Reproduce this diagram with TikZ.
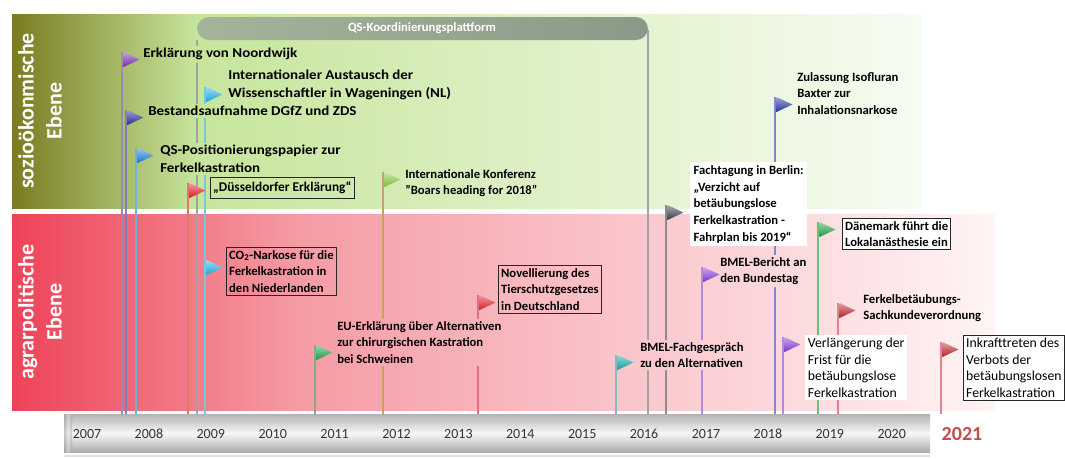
\documentclass[tikz,border=0pt]{standalone}
\usepackage{fontspec}
\setmainfont{Carlito}
\usetikzlibrary{calc}
\pgfdeclarelayer{bg}
\pgfdeclarelayer{poles}
\pgfdeclarelayer{patch}
\pgfsetlayers{bg,poles,patch,main}
\definecolor{grnA}{HTML}{7A7C20}
\definecolor{grnB}{HTML}{C6E59C}
\definecolor{grnC}{HTML}{F7FCF2}
\definecolor{redA}{HTML}{EE4358}
\definecolor{redB}{HTML}{F59CA5}
\definecolor{redC}{HTML}{FFF4F5}
\definecolor{qsA}{HTML}{A4B39A}
\definecolor{qsB}{HTML}{8A9A88}
\definecolor{fPurple}{HTML}{7B2FB5}
\definecolor{fNavy}{HTML}{2B2B9E}
\definecolor{fBlue}{HTML}{1E7FD8}
\definecolor{fRed}{HTML}{E8202C}
\definecolor{fCyan}{HTML}{1FB2EA}
\definecolor{fLime}{HTML}{8CCB3C}
\definecolor{fGreen}{HTML}{23A548}
\definecolor{fTeal}{HTML}{17A9AC}
\definecolor{fDark}{HTML}{3A4552}
\definecolor{fRoyal}{HTML}{2A37A8}
\definecolor{fViolet}{HTML}{8A3CD6}
\definecolor{fDRed}{HTML}{C32630}
\definecolor{pNoord}{HTML}{9A8CB4}
\definecolor{pBest}{HTML}{7E80B8}
\definecolor{pQSpos}{HTML}{6AB4DC}
\definecolor{pDuss}{HTML}{E07A62}
\definecolor{pCyan}{HTML}{74C9DA}
\definecolor{pQS}{HTML}{A3A3A3}
\definecolor{pBoar}{HTML}{C4A464}
\definecolor{pEU}{HTML}{8FA486}
\definecolor{pNov}{HTML}{E0707E}
\definecolor{pBMF}{HTML}{82BCBC}
\definecolor{pFach}{HTML}{8C8C8C}
\definecolor{pZul}{HTML}{8088C8}
\definecolor{pBer}{HTML}{B38CD6}
\definecolor{pDan}{HTML}{6CC26C}
\definecolor{pFb}{HTML}{E08494}
\definecolor{cYear}{HTML}{C0504D}
\newcommand{\drawbands}{%
  \shade[left color=grnA, right color=grnB] (12,14) rectangle (196,208);
  \shade[left color=grnB, right color=grnC] (195.5,14) rectangle (922,208);
  \shade[left color=redA, right color=redB] (12,214) rectangle (300,410);
  \shade[left color=redB, right color=redC] (299.5,214) rectangle (995,410);
}
\newcommand{\pennant}[2]{\shade[pennant=#1] ($(#2)+(1.5,0)$) -- ++(16,7.5) -- ++(-16,7.5) -- cycle;}
\begin{document}
\begin{tikzpicture}[x=0.75pt,y=-0.75pt,
  lbl/.style={font=\fontsize{9.5}{12.5}\selectfont\bfseries, align=left, inner sep=0pt, anchor=north west},
  lblbig/.style={lbl, font=\fontsize{10.2}{13.5}\selectfont\bfseries, xscale=1.1, transform shape},
  lblr/.style={font=\fontsize{10.3}{12.4}\selectfont, align=left, inner sep=2pt, anchor=north west, fill=white},
  framed/.style={lbl, draw=black!85, line width=0.7pt, inner sep=2pt},
  pole/.style={draw=#1, line width=1.2pt},
  pennant/.style={top color=#1!45!white, bottom color=#1!92!black},
  yr/.style={font=\fontsize{10.5}{12}\selectfont, text=black!80},
  side/.style={rotate=90, font=\fontsize{16.5}{21}\selectfont\bfseries, text=white, align=center},
]
\useasboundingbox (0,0) rectangle (1065,458);
\begin{pgfonlayer}{bg}
  \fill[white] (0,0) rectangle (1065,458);
  \drawbands
\end{pgfonlayer}

% side labels
\node[side] (lsoz) at (40,111) {sozioökonmische\\Ebene};
\node[side] (lagr) at (40,312) {agrarpolitische\\Ebene};

% QS platform
\shade[rounded corners=9, left color=qsA, right color=qsB] (197,17) rectangle (648,40);
\node[font=\fontsize{9.5}{11}\selectfont\bfseries, text=white] (qs) at (422,28) {QS-Koordinierungsplattform};
\coordinate (qsl) at (197,40); \coordinate (qslb) at (197,414);
\coordinate (qsr) at (648,30); \coordinate (qsrb) at (648,414);

% timeline bar
\shade[top color=black!30, bottom color=black!32, middle color=black!3] (64,414) rectangle (930,452);
\shade[left color=black!40, right color=black!40, middle color=black!10, opacity=0.5] (64,414) rectangle (72,452);
\draw[black!12, line width=1pt] (64,456) -- (930,456);
\foreach \yy [count=\i from 0] in {2007,...,2020} {
  \node[yr] (y\yy) at ({87+61.9*\i},434) {\yy};
}
\node[font=\fontsize{15}{15}\selectfont\bfseries, text=cYear] (y2021) at (962,434) {2021};

% pole coordinates
\coordinate (t1) at (122,52);  \coordinate (b1) at (122,414);
\coordinate (t2) at (126,110); \coordinate (b2) at (126,414);
\coordinate (t3) at (136,148); \coordinate (b3) at (136,414);
\coordinate (t4) at (188,183); \coordinate (b4) at (188,414);
\coordinate (t5) at (205,87);  \coordinate (b5) at (205,414);
\coordinate (t6) at (205,260); \coordinate (b6) at (205,414);
\coordinate (t7) at (383,172); \coordinate (b7) at (383,414);
\coordinate (t8) at (315,345); \coordinate (b8) at (315,414);
\coordinate (t9) at (478,295); \coordinate (b9) at (478,414);
\coordinate (t10) at (616,355); \coordinate (b10) at (616,414);
\coordinate (t11) at (666,205); \coordinate (b11) at (666,414);
\coordinate (t12) at (775,97); \coordinate (b12) at (775,414);
\coordinate (t13) at (702,267); \coordinate (b13) at (702,414);
\coordinate (t14) at (783,337); \coordinate (b14) at (783,414);
\coordinate (t15) at (818,222); \coordinate (b15) at (818,414);
\coordinate (t16) at (838,303); \coordinate (b16) at (838,414);
\coordinate (t17) at (941,342); \coordinate (b17) at (941,414);

\begin{pgfonlayer}{poles}
  \draw[pole=pQS] (qsl) -- (qslb);
  \draw[pole=pQS] (qsr) -- (qsrb);
  \draw[pole=pNoord] (t1) -- (b1);
  \draw[pole=pBest] (t2) -- (b2);
  \draw[pole=pQSpos] (t3) -- (b3);
  \draw[pole=pDuss] (t4) -- (b4);
  \draw[pole=pCyan] (t5) -- (b5);
  \draw[pole=pCyan] (t6) -- (b6);
  \draw[pole=pBoar] (t7) -- (b7);
  \draw[pole=pEU] (t8) -- (b8);
  \draw[pole=pNov] (t9) -- (b9);
  \draw[pole=pBMF] (t10) -- (b10);
  \draw[pole=pFach] (t11) -- (b11);
  \draw[pole=pZul] (t12) -- (b12);
  \draw[pole=pBer] (t13) -- (b13);
  \draw[pole=pBer] (t14) -- (b14);
  \draw[pole=pDan] (t15) -- (b15);
  \draw[pole=pFb] (t16) -- (b16);
  \draw[pole=pFb] (t17) -- (b17);
\end{pgfonlayer}

% pennants
\pennant{fPurple}{t1}
\pennant{fNavy}{t2}
\pennant{fBlue}{t3}
\pennant{fRed}{t4}
\pennant{fCyan}{t5}
\pennant{fCyan}{t6}
\pennant{fLime}{t7}
\pennant{fGreen}{t8}
\pennant{fRed}{t9}
\pennant{fTeal}{t10}
\pennant{fDark}{t11}
\pennant{fRoyal}{t12}
\pennant{fViolet}{t13}
\pennant{fViolet}{t14}
\pennant{fGreen}{t15}
\pennant{fDRed}{t16}
\pennant{fDRed}{t17}

% labels
\node[lblbig] (n1) at (143,48) {Erklärung von Noordwijk};
\node[lblbig] (n2) at (148,106) {Bestandsaufnahme DGfZ und ZDS};
\node[lblbig] (n3) at (160,145) {QS-Positionierungspapier zur\\Ferkelkastration};
\node[framed, anchor=west, inner ysep=3pt, font=\fontsize{10}{12}\selectfont\bfseries] (n4) at (210,188) {„Düsseldorfer Erklärung“};
\node[lblbig] (n5) at (228,70) {Internationaler Austausch der\\Wissenschaftler in Wageningen (NL)};
\node[framed] (n6) at (226,247) {CO\textsubscript{2}-Narkose für die\\Ferkelkastration in\\den Niederlanden};
\node[lbl] (n7) at (405,169) {Internationale Konferenz\\"Boars heading for 2018"};
\node[lbl] (n8) at (337,321) {EU-Erklärung über Alternativen\\zur chirurgischen Kastration\\bei Schweinen};
\node[framed] (n9) at (498,265) {Novellierung des\\Tierschutzgesetzes\\in Deutschland};
\node[lbl] (n10) at (640,342) {BMEL-Fachgespräch\\zu den Alternativen};
\node[lbl, fill=white, inner sep=2.5pt] (n11) at (690,162) {Fachtagung in Berlin:\\„Verzicht auf\\betäubungslose\\Ferkelkastration -\\Fahrplan bis 2019“};
\node[lbl] (n12) at (797,72) {Zulassung Isofluran\\Baxter zur\\Inhalationsnarkose};
\node[lbl] (n13) at (720,257) {BMEL-Bericht an\\den Bundestag};
\node[lblr] (n14) at (805,335) {Verlängerung der\\Frist für die\\betäubungslose\\Ferkelkastration};
\node[framed, fill=white] (n15) at (842,218) {Dänemark führt die\\Lokalanästhesie ein};
\node[lbl] (n16) at (863,294) {Ferkelbetäubungs-\\Sachkundeverordnung};
\node[lblr, draw=black!85, line width=0.7pt] (n17) at (963,335) {Inkrafttreten des\\Verbots der\\betäubungslosen\\Ferkelkastration};

% background patches under plain labels (hide poles behind text)
\begin{pgfonlayer}{patch}
\begin{scope}
  \clip \foreach \n in {n1,n2,n3,n4,n5,n6,n7,n8,n9,n10,n12,n13,n16} { ($(\n.north west)+(-2,-2)$) rectangle ($(\n.south east)+(2,2)$) };
  \drawbands
\end{scope}
\end{pgfonlayer}
\end{tikzpicture}
\end{document}
